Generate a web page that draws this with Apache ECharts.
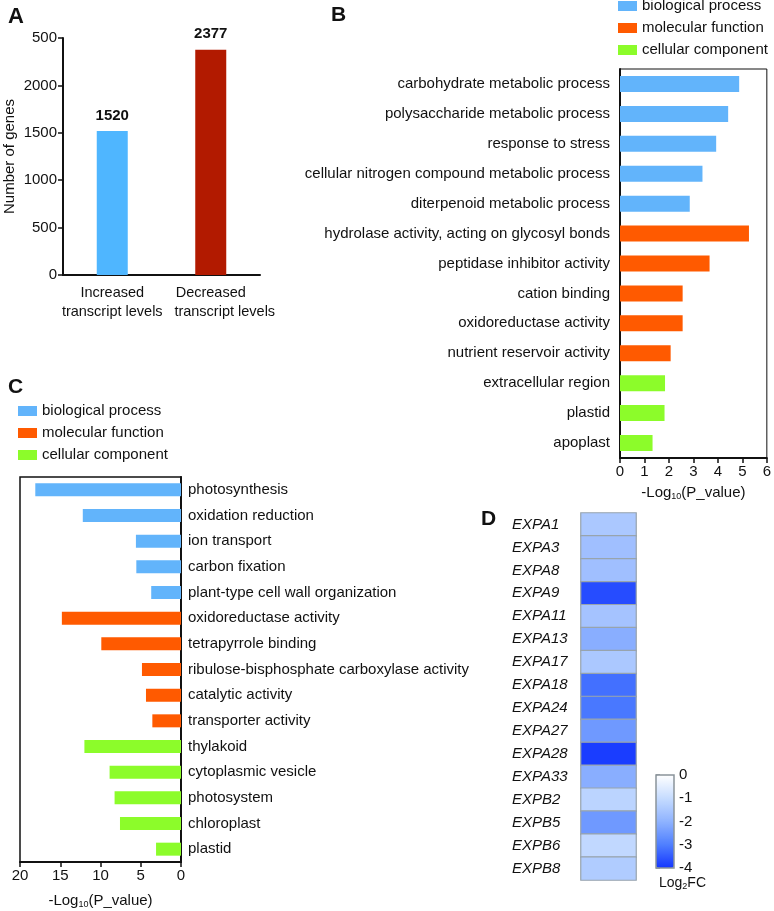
<!DOCTYPE html>
<html>
<head>
<meta charset="utf-8">
<script src="https://cdn.jsdelivr.net/npm/echarts@6/dist/echarts.min.js"></script>
<style>
  html, body { margin: 0; padding: 0; background: #fff; }
  #main { width: 774px; height: 911px; }
</style>
</head>
<body>
<div id="main"></div>
<script>
// panel A
const countCats = ['Increased\ntranscript levels', 'Decreased\ntranscript levels']
const countVals = [1520, 2377]
const countTicks = ['0', '500', '1000', '1500', '2000', '500']

// panel B
const goUpCats = ['carbohydrate metabolic process', 'polysaccharide metabolic process', 'response to stress',
  'cellular nitrogen compound metabolic process', 'diterpenoid metabolic process',
  'hydrolase activity, acting on glycosyl bonds', 'peptidase inhibitor activity', 'cation binding',
  'oxidoreductase activity', 'nutrient reservoir activity', 'extracellular region', 'plastid', 'apoplast']
const goUpVals = [4.87, 4.42, 3.93, 3.37, 2.85, 5.27, 3.66, 2.56, 2.56, 2.07, 1.84, 1.82, 1.33]
const goUpGroup = ['bp', 'bp', 'bp', 'bp', 'bp', 'mf', 'mf', 'mf', 'mf', 'mf', 'cc', 'cc', 'cc']

// panel C
const goDownCats = ['photosynthesis', 'oxidation reduction', 'ion transport', 'carbon fixation',
  'plant-type cell wall organization', 'oxidoreductase activity', 'tetrapyrrole binding',
  'ribulose-bisphosphate carboxylase activity', 'catalytic activity', 'transporter activity',
  'thylakoid', 'cytoplasmic vesicle', 'photosystem', 'chloroplast', 'plastid']
const goDownVals = [18.1, 12.2, 5.6, 5.55, 3.7, 14.8, 9.9, 4.85, 4.35, 3.56, 12.0, 8.87, 8.25, 7.58, 3.1]
const goDownGroup = ['bp', 'bp', 'bp', 'bp', 'bp', 'mf', 'mf', 'mf', 'mf', 'mf', 'cc', 'cc', 'cc', 'cc', 'cc']

// panel D
const expGenes = ['EXPA1', 'EXPA3', 'EXPA8', 'EXPA9', 'EXPA11', 'EXPA13', 'EXPA17', 'EXPA18',
  'EXPA24', 'EXPA27', 'EXPA28', 'EXPA33', 'EXPB2', 'EXPB5', 'EXPB6', 'EXPB8']
const expLogFC = [-1.5, -1.7, -1.7, -3.7, -1.6, -2.1, -1.5, -3.2, -3.1, -2.5, -3.9, -2.1, -1.2, -2.5, -1.1, -1.4]
const fcTicks = [0, -1, -2, -3, -4]

const groups = [
  {key: 'bp', name: 'biological process', color: '#62b4fb'},
  {key: 'mf', name: 'molecular function', color: '#ff5a00'},
  {key: 'cc', name: 'cellular component', color: '#8cfc2a'}
]

const font = 'Liberation Sans, Arial, sans-serif'
const black = '#111'
const logName = {
  name: '{a|-Log}{s|10}{a|(P_value)}',
  nameLocation: 'middle',
  nameTextStyle: {
    rich: {
      a: {fontSize: 15, color: black, fontFamily: font},
      s: {fontSize: 9, color: black, fontFamily: font, padding: [8, 0, 0, 0]}
    }
  }
}

function splitSeries (vals, grp, axis, barWidth) {
  return groups.map(g => ({
    type: 'bar',
    name: g.name,
    xAxisIndex: axis,
    yAxisIndex: axis,
    stack: 'go' + axis,
    barWidth: barWidth,
    itemStyle: {color: g.color},
    data: vals.map((v, i) => grp[i] === g.key ? v : null)
  }))
}

// the second line of the right-hand label sits a bit to the right in the original
function countLabel (v, i) {
  let lines = v.split('\n')
  return '{a|' + lines[0] + '}\n{' + (i === 1 ? 'b' : 'a') + '|' + lines[1] + '}'
}

let chart = echarts.init(document.getElementById('main'))
let option = {
  animation: false,
  textStyle: {fontFamily: font},
  graphic: [
    {type: 'text', left: 8, top: 6, style: {text: 'A', font: 'bold 22px ' + font, fill: black}},
    {type: 'text', left: 331, top: 5, style: {text: 'B', font: 'bold 21px ' + font, fill: black}},
    {type: 'text', left: 8, top: 377, style: {text: 'C', font: 'bold 21px ' + font, fill: black}},
    {type: 'text', left: 481, top: 509, style: {text: 'D', font: 'bold 21px ' + font, fill: black}},
    {
      type: 'text', left: 659, top: 876,
      style: {
        text: '{a|Log}{s|2}{a|FC}',
        rich: {
          a: {fontSize: 14, fill: black, fontFamily: font},
          s: {fontSize: 9, fill: black, fontFamily: font, padding: [7, 0, 0, 0]}
        }
      }
    }
  ],
  legend: [
    {
      left: 618, top: -2, orient: 'vertical', padding: 0,
      itemWidth: 19, itemHeight: 10, itemGap: 6, icon: 'rect',
      textStyle: {fontSize: 15, color: black, lineHeight: 16},
      data: groups.map(g => g.name)
    },
    {
      left: 18, top: 403, orient: 'vertical', padding: 0,
      itemWidth: 19, itemHeight: 10, itemGap: 6, icon: 'rect',
      textStyle: {fontSize: 15, color: black, lineHeight: 16},
      data: groups.map(g => g.name)
    }
  ],
  visualMap: {
    type: 'continuous',
    min: -4, max: 0,
    seriesIndex: 7,
    left: 656, top: 775,
    itemWidth: 18, itemHeight: 93,
    padding: 0,
    calculable: false,
    text: null,
    inRange: {color: ['#1436ff', '#4f7fff', '#8fb3ff', '#c6dcff', '#ffffff']}
  },
  grid: [
    {left: 63, top: 38, width: 197, height: 237},
    {left: 620, top: 69, width: 151, height: 389, show: true, borderColor: black, borderWidth: 1},
    {left: 20, top: 477, width: 161, height: 385, show: true, borderColor: black, borderWidth: 1.5},
    {left: 581, top: 513, width: 55, height: 367},
    {left: 656, top: 775, width: 18, height: 93, show: true, borderColor: '#8a949b', borderWidth: 1.5, z: 6}
  ],
  xAxis: [
    {
      gridIndex: 0, type: 'category', data: countCats,
      axisLine: {lineStyle: {color: black, width: 2}},
      axisTick: {show: false},
      axisLabel: {
        margin: 8, interval: 0, formatter: countLabel,
        rich: {
          a: {fontSize: 14.5, color: black, lineHeight: 19, fontFamily: font},
          b: {fontSize: 14.5, color: black, lineHeight: 19, fontFamily: font, padding: [0, 0, 0, 28]}
        }
      }
    },
    Object.assign({
      gridIndex: 1, type: 'value', min: 0, max: 6, interval: 1, nameGap: 26,
      axisLine: {show: true, lineStyle: {color: black, width: 2}},
      axisTick: {show: true, length: 5, lineStyle: {color: black, width: 1.5}},
      axisLabel: {fontSize: 15, color: black, margin: 6},
      splitLine: {show: false}
    }, logName),
    Object.assign({
      gridIndex: 2, type: 'value', min: 0, max: 20, interval: 5, inverse: true, nameGap: 30,
      axisLine: {show: true, lineStyle: {color: black, width: 2}},
      axisTick: {show: true, length: 5, lineStyle: {color: black, width: 1.5}},
      axisLabel: {fontSize: 15, color: black, margin: 6},
      splitLine: {show: false}
    }, logName),
    {gridIndex: 3, type: 'category', data: ['FC'], show: false},
    {gridIndex: 4, type: 'value', show: false, min: 0, max: 1}
  ],
  yAxis: [
    {
      gridIndex: 0, type: 'value', min: 0, max: 2500, interval: 500,
      name: 'Number of genes', nameLocation: 'middle', nameGap: 46,
      nameTextStyle: {fontSize: 15, color: black},
      axisLine: {show: true, lineStyle: {color: black, width: 2}},
      axisTick: {show: true, length: 5, lineStyle: {color: black, width: 1.5}},
      axisLabel: {fontSize: 15, color: black, margin: 6, formatter: v => countTicks[v / 500]},
      splitLine: {show: false}
    },
    {
      gridIndex: 1, type: 'category', data: goUpCats, inverse: true,
      axisLine: {lineStyle: {color: black, width: 2}},
      axisTick: {length: 5, lineStyle: {color: black, width: 1.5}},
      axisLabel: {fontSize: 15, color: black, margin: 10, interval: 0}
    },
    {
      gridIndex: 2, type: 'category', data: goDownCats, inverse: true, position: 'right',
      axisLine: {lineStyle: {color: black, width: 2}},
      axisTick: {length: 5, lineStyle: {color: black, width: 1.5}},
      axisLabel: {fontSize: 15, color: black, margin: 7, interval: 0}
    },
    {
      gridIndex: 3, type: 'category', data: expGenes, inverse: true,
      axisLine: {show: false}, axisTick: {show: false},
      axisLabel: {fontSize: 15, color: black, fontStyle: 'italic', align: 'left', margin: 69, interval: 0}
    },
    {
      gridIndex: 4, type: 'value', min: -4, max: 0, interval: 1, position: 'right',
      axisLine: {show: false},
      axisTick: {show: true, length: 4, lineStyle: {color: '#8a949b', width: 1.5}},
      axisLabel: {fontSize: 15, color: black, margin: 5, formatter: v => String(fcTicks[-v])},
      splitLine: {show: false}
    }
  ],
  series: [
    {
      type: 'bar', xAxisIndex: 0, yAxisIndex: 0, barWidth: 31,
      data: countVals.map((v, i) => ({value: v, itemStyle: {color: i === 0 ? '#4fb6ff' : '#b21a00'}})),
      label: {show: true, position: 'top', distance: 8, fontSize: 15, fontWeight: 'bold', color: black}
    },
    ...splitSeries(goUpVals, goUpGroup, 1, 16),
    ...splitSeries(goDownVals, goDownGroup, 2, 13),
    {
      type: 'heatmap', xAxisIndex: 3, yAxisIndex: 3,
      data: expLogFC.map((v, i) => [0, i, v]),
      itemStyle: {borderColor: '#98a4ad', borderWidth: 1.2}
    }
  ]
}
chart.setOption(option)
</script>
</body>
</html>
